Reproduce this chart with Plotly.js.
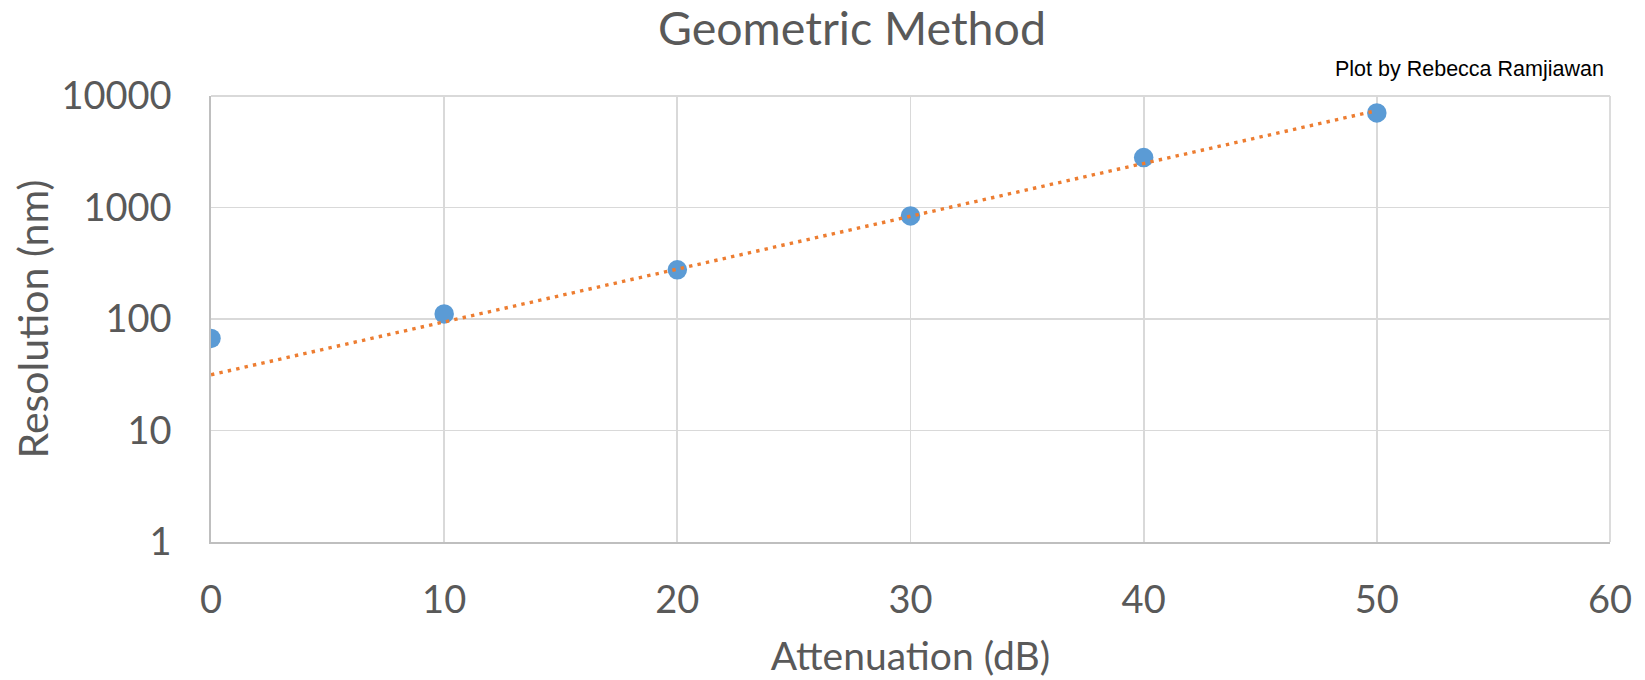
<!DOCTYPE html>
<html>
<head>
<meta charset="utf-8">
<script src="https://cdn.plot.ly/plotly-3.0.1.min.js"></script>
<style>
  html, body { margin: 0; padding: 0; background: #ffffff; }
  #chart { width: 1645px; height: 680px; }
</style>
</head>
<body>
<div id="chart"></div>
<script>
// Data
const attenuation = [0, 10, 20, 30, 40, 50];
const resolution = [67, 111, 276, 841, 2805, 7050];

// Exponential trend line (endpoints)
const trendX = [0, 50];
const trendY = [31.6, 7400];

// Tick labels
const xTickVals = [0, 10, 20, 30, 40, 50, 60];
const yTickVals = [1, 10, 100, 1000, 10000];
const yTickText = ['1', '10', '100', '1000', '10000'];

const textColor = '#595959';
const fontFam = 'Lato, "Open Sans", sans-serif';

const traces = [
  {
    x: attenuation,
    y: resolution,
    type: 'scatter',
    mode: 'markers',
    marker: { color: '#5B9BD5', size: 19.5, line: { width: 0 } },
    showlegend: false,
    hoverinfo: 'x+y'
  },
  {
    x: trendX,
    y: trendY,
    type: 'scatter',
    mode: 'lines',
    line: { color: '#ED7D31', width: 3.4, dash: '3.4px,5.2px' },
    showlegend: false,
    hoverinfo: 'skip'
  }
];

const layout = {
  width: 1645,
  height: 680,
  paper_bgcolor: '#ffffff',
  plot_bgcolor: '#ffffff',
  margin: { l: 211, r: 35, t: 96, b: 138 },
  font: { family: fontFam, color: textColor },
  title: {
    text: 'Geometric Method',
    font: { family: fontFam, size: 46.5, color: textColor },
    xref: 'container', yref: 'container',
    x: 852 / 1645, xanchor: 'center',
    y: 1 - 29 / 680, yanchor: 'middle'
  },
  xaxis: {
    range: [0, 60],
    tickvals: xTickVals,
    ticks: '',
    showgrid: true,
    gridcolor: '#D9D9D9',
    gridwidth: 1.8,
    zeroline: false,
    showline: true,
    linecolor: '#BFBFBF',
    linewidth: 1.8,
    tickfont: { family: fontFam, size: 38, color: textColor },
    ticklabelstandoff: 24,
    title: {
      text: 'Attenuation (dB)',
      font: { family: fontFam, size: 39, color: textColor },
      standoff: 22
    },
    fixedrange: true
  },
  yaxis: {
    type: 'log',
    range: [0, 4],
    tickvals: yTickVals,
    ticktext: yTickText,
    ticks: '',
    showgrid: true,
    gridcolor: '#D9D9D9',
    gridwidth: 1.8,
    zeroline: false,
    showline: true,
    linecolor: '#BFBFBF',
    linewidth: 1.8,
    automargin: true,
    tickfont: { family: fontFam, size: 38, color: textColor },
    ticklabelstandoff: 30,
    title: {
      text: 'Resolution (nm)',
      font: { family: fontFam, size: 41, color: textColor },
      standoff: 0
    },
    fixedrange: true
  },
  shapes: [
    { type: 'line', xref: 'paper', yref: 'paper', x0: 1, x1: 1, y0: 0, y1: 1,
      line: { color: '#D9D9D9', width: 1.8 } },
    { type: 'line', xref: 'paper', yref: 'paper', x0: 0, x1: 1, y0: 1, y1: 1,
      line: { color: '#D9D9D9', width: 1.8 } }
  ],
  annotations: [
    {
      text: 'Plot by Rebecca Ramjiawan',
      xref: 'paper', yref: 'paper',
      x: (1606 - 211) / (1645 - 211 - 35), xanchor: 'right',
      y: 1 + (96 - 69) / (680 - 96 - 138), yanchor: 'middle',
      showarrow: false,
      font: { family: '"Liberation Sans", Arial, sans-serif', size: 21.5, color: '#000000' }
    }
  ]
};

Plotly.newPlot('chart', traces, layout, { displayModeBar: false, staticPlot: true });
</script>
</body>
</html>
